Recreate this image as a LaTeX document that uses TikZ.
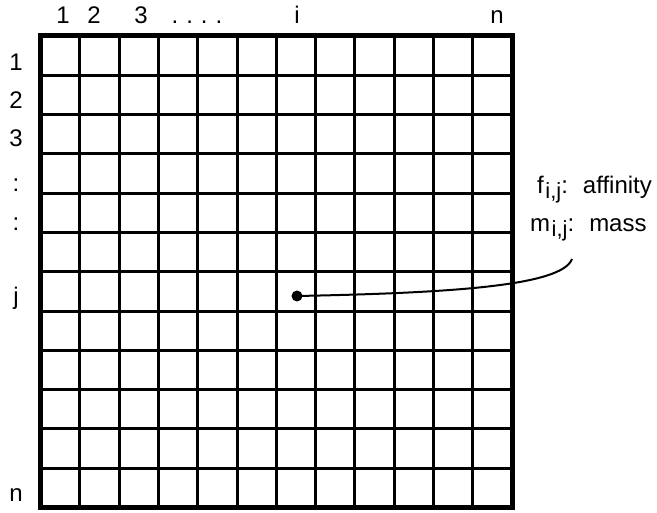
\documentclass[tikz,border=0pt]{standalone}
\usepackage{fontspec}
\setmainfont{Liberation Sans}
\begin{document}
\begin{tikzpicture}[x=1pt,y=-1pt,
  lbl/.style={font=\fontsize{24}{28}\selectfont, inner sep=0pt, anchor=base},
  rlbl/.style={font=\fontsize{24}{28}\selectfont, inner sep=0pt, anchor=base west},
  gridline/.style={line width=3pt},
  border/.style={line width=5pt, line join=miter},
  leader/.style={line width=2pt}]
\useasboundingbox (0,0) rectangle (657,513);
% grid
\foreach \k in {1,...,11}{
  \draw[gridline] ({40.5+\k*39.3},36) -- ({40.5+\k*39.3},507.6);
  \draw[gridline] (40.5,{36+\k*39.3}) -- (512.1,{36+\k*39.3});
}
\draw[border] (40.5,36) rectangle (512.1,507.6);
% top labels
\node[lbl] (c1) at (63,24) {1};
\node[lbl] (c2) at (94,24) {2};
\node[lbl] (c3) at (141,24) {3};
\node[lbl] (cdots) at (197,24) {.\hspace{8pt}.\hspace{8pt}.\hspace{8pt}.};
\node[lbl] (ci) at (297,24) {i};
\node[lbl] (cn) at (497,24) {n};
% left labels
\node[lbl] (r1) at (16,71) {1};
\node[lbl] (r2) at (16,109) {2};
\node[lbl] (r3) at (16,147) {3};
\node[lbl] (r4) at (16,192) {:};
\node[lbl] (r5) at (16,231) {:};
\node[lbl] (rj) at (16,305) {j};
\node[lbl] (rn) at (16,502) {n};
% dot and leader
\node[circle, fill=black, inner sep=0pt, minimum size=11pt] (dot) at (297,296) {};
\coordinate (tip) at (572,259);
\draw[leader] (dot.center) .. controls (450,293) and (562,286) .. (tip);
% right labels
\node[rlbl] (fl) at (537,194) {f\hspace{1.5pt}\raisebox{-5pt}{\fontsize{22}{26}\selectfont i,j}:\hspace{15pt}affinity};
\node[rlbl] (ml) at (530,232) {m\hspace{1.5pt}\raisebox{-5pt}{\fontsize{22}{26}\selectfont i,j}:\hspace{15pt}mass};
\end{tikzpicture}
\end{document}
